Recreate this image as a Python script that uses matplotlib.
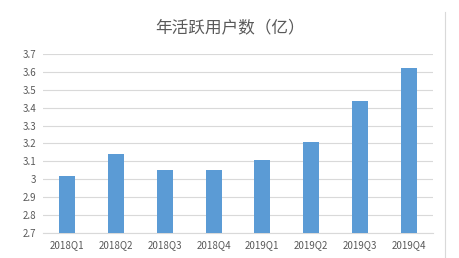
import matplotlib.pyplot as plt
import numpy as np

plt.rcParams['font.family'] = ['Noto Sans CJK SC', 'DejaVu Sans']

quarters = ['2018Q1', '2018Q2', '2018Q3', '2018Q4',
            '2019Q1', '2019Q2', '2019Q3', '2019Q4']
users = [3.02, 3.14, 3.05, 3.05, 3.11, 3.21, 3.44, 3.62]
yticks = [2.7, 2.8, 2.9, 3.0, 3.1, 3.2, 3.3, 3.4, 3.5, 3.6, 3.7]
ytick_labels = ['2.7', '2.8', '2.9', '3', '3.1', '3.2', '3.3', '3.4', '3.5', '3.6', '3.7']

fig = plt.figure(figsize=(4.6, 2.58), dpi=100)
ax = fig.add_axes([43 / 460, 1 - 233 / 258, 390 / 460, 179 / 258])

x = np.arange(len(quarters))
ax.bar(x, users, width=0.33, color='#5B9BD5', zorder=3)
ax.set_xlim(-0.5, len(quarters) - 0.5)
ax.set_ylim(2.7, 3.7)
ax.set_yticks(yticks)
ax.set_yticklabels(ytick_labels)
ax.set_xticks(x)
ax.set_xticklabels(quarters)
ax.tick_params(length=0, labelsize=7, colors='#595959', pad=5)
ax.grid(axis='y', color='#D9D9D9', linewidth=0.8, zorder=0)
for s in ['top', 'right', 'left']:
    ax.spines[s].set_visible(False)
ax.spines['bottom'].set_color('#D9D9D9')
ax.spines['bottom'].set_linewidth(0.8)

fig.text(0.5, 1 - 28 / 258, '年活跃用户数（亿）', ha='center', va='center',
         fontsize=12, color='#595959')
# right frame edge of the original chart box
fig.add_artist(plt.Line2D([445 / 460, 445 / 460], [0, 1 - 12 / 258],
                          transform=fig.transFigure, color='#D9D9D9', linewidth=0.8))

fig.savefig('out.png', dpi=100)
